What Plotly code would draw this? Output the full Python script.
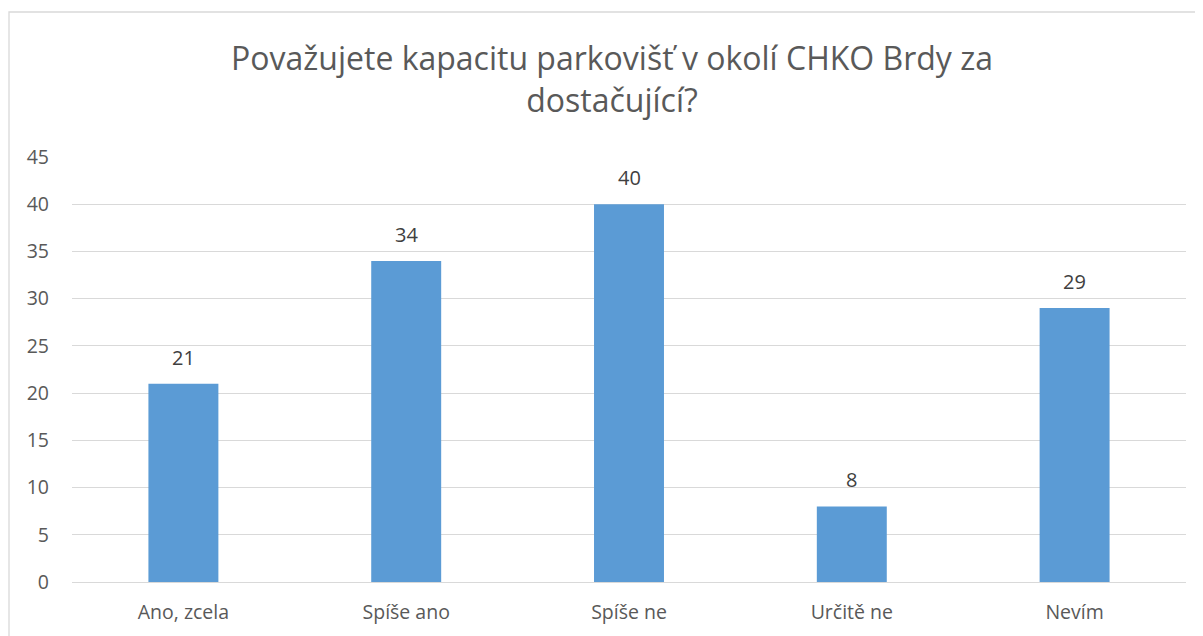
import plotly.graph_objects as go

categories = ["Ano, zcela", "Spíše ano", "Spíše ne", "Určitě ne", "Nevím"]
values = [21, 34, 40, 8, 29]
title_text = "Považujete kapacitu parkovišť v okolí CHKO Brdy za<br>dostačující?"

# The page body adds an 8px offset; layout numbers below compensate for it.
W, H = 1203, 636
OFF = 8
L, R, T, B = 72 - OFF, W - 1186 + OFF, 157 - OFF, H - 582 + OFF
pw = W - L - R
ph = H - T - B
FONT = "Open Sans"

fig = go.Figure(go.Bar(
    x=categories, y=values,
    marker=dict(color="#5b9bd5", line=dict(width=0)),
    hoverinfo="x+y",
))

for c, v in zip(categories, values):
    fig.add_annotation(x=c, y=v, text=str(v), showarrow=False, yanchor="bottom",
                       yshift=11, font=dict(size=20, color="#404040", family=FONT))

fig.update_layout(
    width=W, height=H,
    margin=dict(l=L, r=R, t=T, b=B),
    paper_bgcolor="white", plot_bgcolor="white",
    bargap=0.686,
    showlegend=False,
    font=dict(family=FONT, color="#595959"),
    title=dict(text=title_text, x=(612 - OFF) / W, xanchor="center", y=1 - (70 - OFF) / H,
               yanchor="middle", font=dict(size=32, color="#595959", family=FONT)),
    xaxis=dict(showgrid=False, showline=False, ticks="", tickfont=dict(size=19.5, color="#595959"),
               ticklabelstandoff=16),
    yaxis=dict(range=[0, 45], dtick=5, showgrid=True, gridcolor="#d9d9d9", gridwidth=1.3,
               zeroline=True, zerolinecolor="#d9d9d9", zerolinewidth=1.3, showline=False,
               tickfont=dict(size=19.5, color="#595959"), ticklabelstandoff=22),
    shapes=[dict(type="rect", xref="paper", yref="paper",
                 x0=(9 - OFF - L) / pw, x1=(W + 20 - L) / pw,
                 y0=-(B + 20) / ph, y1=(H - B - (12 - OFF)) / ph,
                 line=dict(color="#d9d9d9", width=1.3), fillcolor="rgba(0,0,0,0)", layer="below")],
)

fig.write_html("out.html")
